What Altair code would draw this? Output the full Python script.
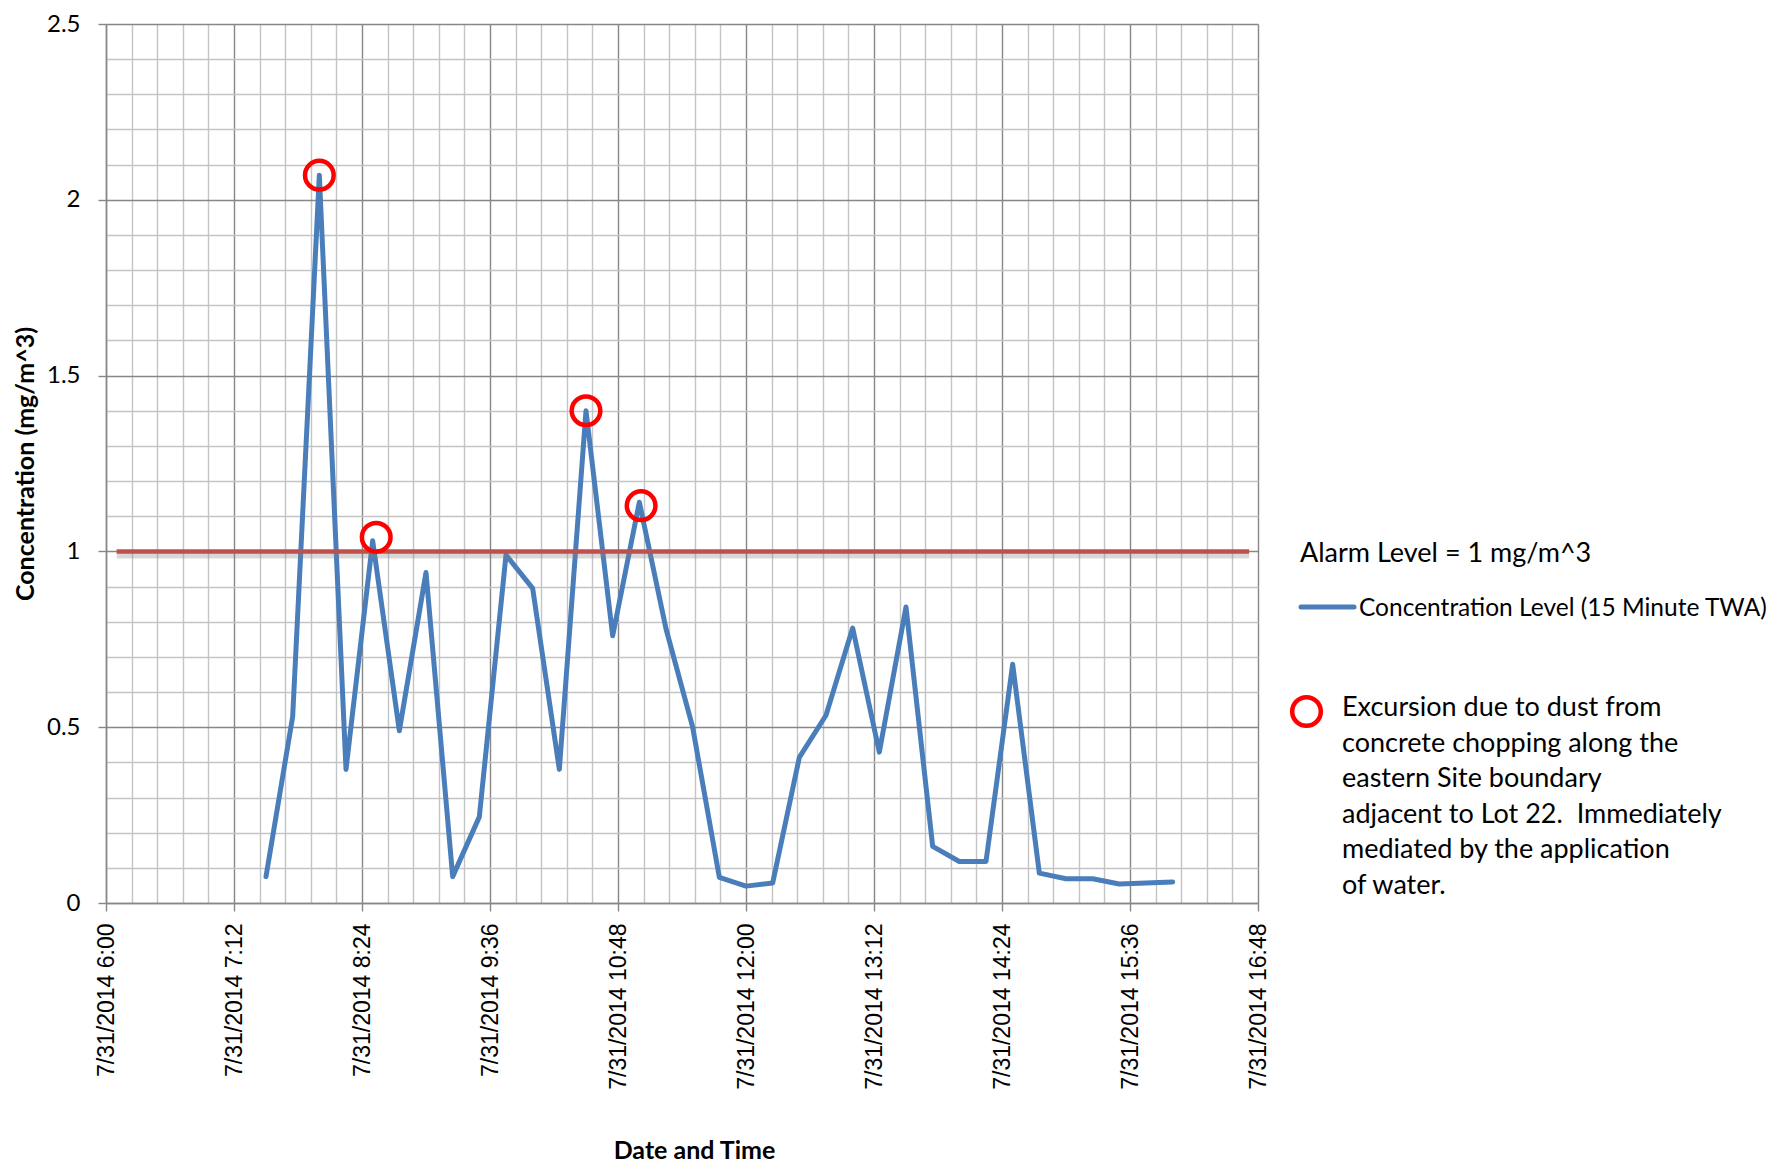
import json
import altair as alt
import pandas as pd

# ---- data ----
times = ["07:30", "07:45", "08:00", "08:15", "08:30", "08:45", "09:00", "09:15", "09:30",
         "09:45", "10:00", "10:15", "10:30", "10:45", "11:00", "11:15", "11:30", "11:45",
         "12:00", "12:15", "12:30", "12:45", "13:00", "13:15", "13:30", "13:45", "14:00",
         "14:15", "14:30", "14:45", "15:00", "15:15", "15:30", "15:45", "16:00"]
concentration = [0.075, 0.53, 2.07, 0.38, 1.03, 0.49, 0.94, 0.075, 0.245,
                 0.99, 0.895, 0.38, 1.40, 0.76, 1.14, 0.78, 0.50, 0.073,
                 0.048, 0.057, 0.414, 0.534, 0.782, 0.429, 0.842, 0.161, 0.118,
                 0.118, 0.679, 0.085, 0.069, 0.069, 0.054, 0.057, 0.060]

excursion_times = ["08:00", "08:32", "10:30", "11:01"]
excursion_values = [2.07, 1.04, 1.40, 1.13]

alarm_start = "06:06"
alarm_end = "16:43"
alarm_level = 1.0

x_tick_labels = ["7/31/2014 6:00", "7/31/2014 7:12", "7/31/2014 8:24", "7/31/2014 9:36",
                 "7/31/2014 10:48", "7/31/2014 12:00", "7/31/2014 13:12", "7/31/2014 14:24",
                 "7/31/2014 15:36", "7/31/2014 16:48"]
y_tick_labels = ["0", "0.5", "1", "1.5", "2", "2.5"]

legend_alarm = "Alarm Level = 1 mg/m^3"
legend_series = "Concentration Level (15 Minute TWA)"
legend_note = ["Excursion due to dust from", "concrete chopping along the",
               "eastern Site boundary", "adjacent to Lot 22.\u00a0 Immediately",
               "mediated by the application", "of water."]


def iso(t):
    return f"2014-07-31T{t}:00Z"


def ms(t):
    return int(pd.Timestamp(iso(t)).value // 10**6)


T0 = ms("06:00")
STEP = 864000  # 14.4 minutes in ms
x_values = [T0 + i * STEP for i in range(46)]
y_values = [round(i * 0.1, 1) for i in range(26)]

df = pd.DataFrame({"t": [iso(t) for t in times], "v": concentration})
df_exc = pd.DataFrame({"t": [iso(t) for t in excursion_times], "v": excursion_values})
df_alarm = pd.DataFrame({"t": [iso(alarm_start)], "t2": [iso(alarm_end)], "v": [alarm_level]})
one = pd.DataFrame({"a": [0]})

W, H = 1152, 879
MAJOR_GRID = "#878787"
MINOR_GRID = "#C4C4C4"

xidx = f"round((datum.value - {T0}) / {STEP})"
x_major = f"{xidx} % 5 === 0"
yidx = "round(datum.value * 10)"
y_major = f"{yidx} % 5 === 0"

x_axis = alt.Axis(
    values=x_values,
    tickCount=200,
    grid=True,
    gridColor={"condition": {"test": x_major, "value": MAJOR_GRID}, "value": MINOR_GRID},
    gridWidth=1.4,
    tickColor={"condition": {"test": x_major, "value": MAJOR_GRID}, "value": "transparent"},
    tickSize=8,
    tickWidth=1.4,
    domainColor=MAJOR_GRID,
    domainWidth=1.5,
    labelExpr=f"({x_major}) ? {json.dumps(x_tick_labels)}[{xidx} / 5] : ''",
    labelAngle=270,
    labelFont="Liberation Sans",
    labelFontSize=23,
    labelColor="#000000",
    labelPadding=12,
    labelOverlap=False,
    labelFlush=False,
    labelBound=False,
    title="Date and Time",
    titleFont="Lato",
    titleFontWeight="bold",
    titleFontSize=25,
    titleColor="#000000",
    titleX=588,
    titleY=255,
    titleAngle=0,
    titleAlign="center",
    titleBaseline="alphabetic",
)

y_axis = alt.Axis(
    values=y_values,
    tickCount=200,
    grid=True,
    gridColor={"condition": {"test": y_major, "value": MAJOR_GRID}, "value": MINOR_GRID},
    gridWidth=1.4,
    tickColor={"condition": {"test": y_major, "value": MAJOR_GRID}, "value": "transparent"},
    tickSize=8,
    tickWidth=1.4,
    domainColor=MAJOR_GRID,
    domainWidth=1.5,
    labelExpr=f"({y_major}) ? {json.dumps(y_tick_labels)}[{yidx} / 5] : ''",
    labelFont="Lato",
    labelFontSize=24,
    labelColor="#000000",
    labelPadding=18,
    labelOverlap=False,
    labelFlush=False,
    labelBound=False,
    title="Concentration (mg/m^3)",
    titleFont="Lato",
    titleFontWeight="bold",
    titleFontSize=25,
    titleColor="#000000",
    titleX=-81,
    titleY=H / 2,
    titleAngle=270,
    titleAlign="center",
    titleBaseline="middle",
)

x_scale = alt.Scale(type="utc", domain=[T0, T0 + 45 * STEP], nice=False)
y_scale = alt.Scale(domain=[0, 2.5], nice=False)

line = alt.Chart(df).mark_line(
    color="#4A7EBB", strokeWidth=5, strokeCap="round", strokeJoin="round"
).encode(
    x=alt.X("t:T", scale=x_scale, axis=x_axis),
    y=alt.Y("v:Q", scale=y_scale, axis=y_axis),
)

alarm_shadow = alt.Chart(df_alarm).mark_rule(
    color="#7F7F7F", opacity=0.3, strokeWidth=6, yOffset=4
).encode(x="t:T", x2="t2:T", y="v:Q")

alarm = alt.Chart(df_alarm).mark_rule(
    color="#C0504D", strokeWidth=4.5
).encode(x="t:T", x2="t2:T", y="v:Q")

circles = alt.Chart(df_exc).mark_point(
    shape="circle", filled=False, color="#FF0000", strokeWidth=4.5, size=820, opacity=1
).encode(x="t:T", y="v:Q")

# ---- legend / annotation (positions relative to plot origin) ----
LX = 1194
txt_alarm = alt.Chart(one).mark_text(
    font="Lato", fontSize=27, align="left", baseline="alphabetic", color="#000000"
).encode(x=alt.value(LX), y=alt.value(538), text=alt.value(legend_alarm))

leg_line = alt.Chart(one).mark_rule(
    color="#4A7EBB", strokeWidth=5, strokeCap="round"
).encode(x=alt.value(LX + 1), x2=alt.value(LX + 54), y=alt.value(583))

txt_series = alt.Chart(one).mark_text(
    font="Lato", fontSize=24.5, align="left", baseline="alphabetic", color="#000000"
).encode(x=alt.value(LX + 59), y=alt.value(591.5), text=alt.value(legend_series))

leg_circle = alt.Chart(one).mark_point(
    shape="circle", filled=False, color="#FF0000", strokeWidth=4.5, size=820, opacity=1
).encode(x=alt.value(LX + 6.5), y=alt.value(687.5))

txt_note = alt.Chart(one).mark_text(
    font="Lato", fontSize=27, align="left", baseline="alphabetic", color="#000000",
    lineHeight=35.5
).encode(x=alt.value(LX + 42), y=alt.value(692), text=alt.value(legend_note))

chart = alt.layer(
    line, alarm_shadow, alarm, circles,
    txt_alarm, leg_line, txt_series, leg_circle, txt_note
).properties(
    width=W, height=H,
    autosize=alt.AutoSizeParams(type="none"),
    padding={"left": 98, "top": 16, "right": 510, "bottom": 262},
    background="#FFFFFF",
).configure_view(strokeWidth=0)

chart.save("out.html", embed_options={"renderer": "svg", "actions": False})
